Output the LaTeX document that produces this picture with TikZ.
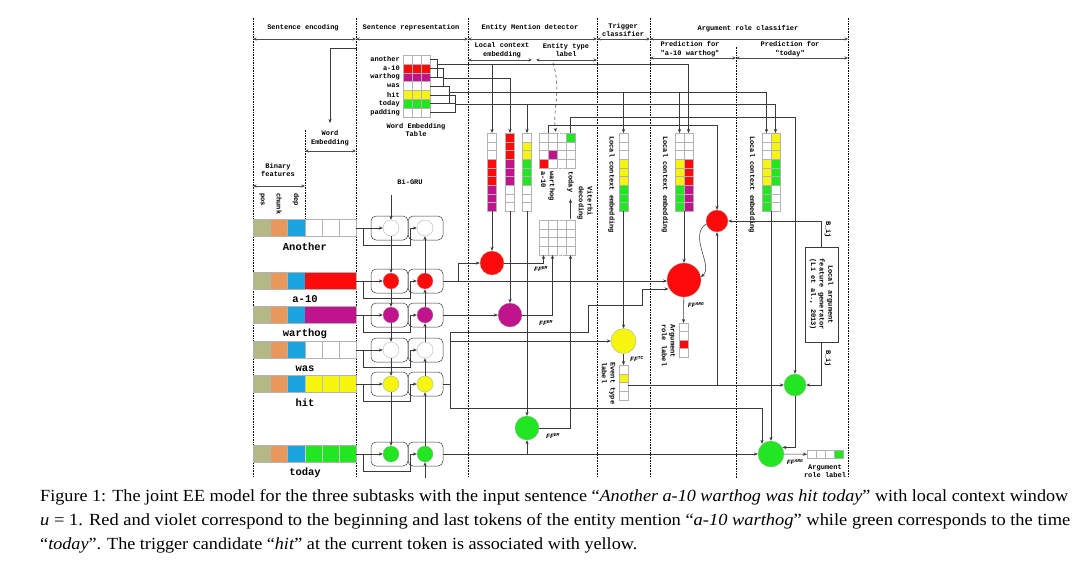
\documentclass[tikz,border=0pt]{standalone}
\usepackage{fontspec}
\usepackage{graphicx}
\setmainfont{Liberation Serif}
\setmonofont{Liberation Mono}
\usetikzlibrary{arrows.meta}

\definecolor{cw}{HTML}{FFFFFF}
\definecolor{cr}{HTML}{FF0A0A}
\definecolor{cv}{HTML}{C0148C}
\definecolor{cy}{HTML}{F5F510}
\definecolor{cg}{HTML}{22E622}
\definecolor{colv}{HTML}{B4B884}
\definecolor{corg}{HTML}{E8985A}
\definecolor{ccyn}{HTML}{1BA5E0}
\definecolor{ln}{HTML}{3A3A3A}

\newcommand{\vcells}[4]{\foreach \cc [count=\ii from 0] in {#4} {\draw[ecell, fill=\cc] (#1, #2+\ii*#3) rectangle ++(9, #3);}}

\begin{document}
\begin{tikzpicture}[x=1pt,y=-1pt,
  lbl/.style={font=\ttfamily\bfseries\fontsize{7}{8.6}\selectfont, inner sep=0},
  wlabel/.style={font=\ttfamily\bfseries\fontsize{10.5}{11}\selectfont, inner sep=0},
  ff/.style={font=\ttfamily\bfseries\itshape\fontsize{6.5}{7}\selectfont, inner sep=0},
  divider/.style={draw=black, line width=0.7pt, dash pattern=on 1.6pt off 1pt},
  hdr/.style={{Stealth[length=3.5pt,width=3pt]}-{Stealth[length=3.5pt,width=3pt]}, draw=gray!60!black, line width=0.4pt},
  conn/.style={draw=ln, line width=0.55pt},
  arr/.style={conn, -{Stealth[length=4pt,width=3.2pt]}},
  ecell/.style={draw=gray!60, line width=0.3pt},
  neuron/.style={circle, draw=gray!70, line width=0.3pt, inner sep=0, minimum size=16pt},
  gru/.style={draw=ln, rounded corners=5pt, line width=0.5pt}]
\fill[white] (0,0) rectangle (1080,563);
\useasboundingbox (0,0) rectangle (1080,563);

% ---------- section dividers ----------
\foreach \sx/\sa/\sb in {253/18/478, 356/18/478, 468/18/478, 597/18/478, 650/18/478, 848/18/478, 736/47/478, 305/130/221}
  \draw[divider] (\sx,\sa) -- (\sx,\sb);

% ---------- headers ----------
\node[lbl] (h1) at (303,28) {Sentence encoding};
\node[lbl] (h2) at (411,28) {Sentence representation};
\node[lbl] (h3) at (530,28) {Entity Mention detector};
\node[lbl, align=center] (h4) at (623,30) {Trigger\\classifier};
\node[lbl] (h5) at (748,29) {Argument role classifier};
\node[lbl, align=center] (h6) at (502,50) {Local context\\embedding};
\node[lbl, align=center] (h7) at (566,50) {Entity type\\label};
\node[lbl, align=center] (h8) at (690,49) {Prediction for\\"a-10 warthog"};
\node[lbl, align=center] (h9) at (790,49) {Prediction for\\"today"};
\node[lbl, align=center] (h10) at (330,138) {Word\\Embedding};
\node[lbl, align=center] (h11) at (278,170) {Binary\\features};
\draw[hdr] (253,39) -- (356,39);
\draw[hdr] (356,39) -- (468,39);
\draw[hdr] (468,39) -- (597,39);
\draw[hdr] (597,39) -- (650,39);
\draw[hdr] (650,39) -- (848,39);
\draw[hdr] (468,60) -- (532,60);
\draw[hdr] (536,60) -- (597,60);
\draw[hdr] (650,58) -- (736,58);
\draw[hdr] (736,58) -- (848,58);
\draw[hdr] (305,151) -- (356,151);
\draw[hdr] (253,186) -- (305,186);
\node[lbl, rotate=-90, anchor=west] (fpos) at (262,193) {pos};
\node[lbl, rotate=-90, anchor=west] (fchunk) at (279,193) {chunk};
\node[lbl, rotate=-90, anchor=west] (fdep) at (296,193) {dep};

% ---------- word embedding table ----------
\foreach \wrd/\cc [count=\k from 0] in {another/cw, a-10/cr, warthog/cv, was/cw, hit/cy, today/cg, padding/cw} {
  \node[lbl, anchor=east] (tw\k) at (400, 59.4+\k*8.857) {\wrd};
  \foreach \j in {0,1,2} \draw[ecell, fill=\cc] (403+\j*9, 55+\k*8.857) rectangle ++(9,8.857);
}
\node[lbl, align=center] (wet) at (416,130) {Word Embedding\\Table};
\coordinate (weA) at (357,48);
\coordinate (weB) at (330,123);
\draw[arr] (weA) -| (weB);

% brackets to the four window buses
\foreach \bx/\by/\ra/\rb in {437/64/0/2, 443/78/1/3, 449/92/3/5, 455/104/4/6} {
  \foreach \k in {\ra,...,\rb} \draw[conn] (430, 59.4+\k*8.857) -- (\bx, 59.4+\k*8.857);
  \draw[conn] (\bx, 59.4+\ra*8.857) -- (\bx, 59.4+\rb*8.857);
}
\draw[conn] (437,64) -- (688.5,64);
\draw[conn] (443,78) -- (510,78);
\draw[conn] (449,92) -- (766.5,92);
\draw[conn] (455,104) -- (775.5,104);
\foreach \dx/\dy in {492/64, 688.5/64, 510/78, 623.5/92, 679.5/92, 766.5/92, 527/104, 775.5/104}
  \draw[arr] (\dx,\dy) -- (\dx,133);

% ---------- sentence rows + Bi-GRU ----------
\node[lbl] (bigru) at (410,182) {Bi-GRU};
\foreach \nm/\rc/\fc/\dc/\txt in {an/228/cw/gray!60/Another, ai/281/cr/cr/a-10, wa/315/cv/cv/warthog, ws/350/cw/gray!60/was, hi/384/cy/gray!50/hit, to/454/cg/gray!40/today}{
  \draw[ecell, fill=colv] (253,\rc-8.5) rectangle (270,\rc+8.5);
  \draw[ecell, fill=corg] (270,\rc-8.5) rectangle (287,\rc+8.5);
  \draw[ecell, fill=ccyn] (287,\rc-8.5) rectangle (305,\rc+8.5);
  \foreach \j in {0,1,2} \draw[draw=\dc, line width=0.3pt, fill=\fc] (305+\j*17,\rc-8.5) rectangle ++(17,17);
  \draw[ecell] (253,\rc-8.5) rectangle (356,\rc+8.5);
  \node[wlabel] (w\nm) at (305,\rc+18.5) {\txt};
  \draw[gru] (371,\rc-12) rectangle (408,\rc+12);
  \draw[gru] (408,\rc-12) rectangle (443,\rc+12);
  \node[neuron, fill=\fc] (L\nm) at (391,\rc) {};
  \node[neuron, fill=\fc] (R\nm) at (425,\rc) {};
  \coordinate (S\nm) at (356,\rc);
  \coordinate (O\nm) at (443,\rc);
  \draw[arr] (S\nm) -- (L\nm);
  \draw[arr] (363,\rc) -- (363,\rc+17) -- (410,\rc+17) -- (410,\rc) -- (R\nm);
}
\coordinate (bgin) at (391,195);
\coordinate (bgout) at (425,478);
\draw[arr] (bgin) -- (Lan);
\draw[arr] (bgout) -- (Rto);
\draw[arr] (Lan) -- (Lai); \draw[arr] (Lai) -- (Lwa); \draw[arr] (Lwa) -- (Lws);
\draw[arr] (Lws) -- (Lhi); \draw[arr] (Lhi) -- (Lto);
\draw[arr] (Rai) -- (Ran); \draw[arr] (Rwa) -- (Rai); \draw[arr] (Rws) -- (Rwa);
\draw[arr] (Rhi) -- (Rws); \draw[arr] (Rto) -- (Rhi);

% ---------- local context columns ----------
\vcells{487.5}{133}{8.667}{cw,cw,cw,cr,cr,cr,cv,cv,cv}
\vcells{505.5}{133}{8.667}{cr,cr,cr,cv,cv,cv,cw,cw,cw}
\vcells{522.5}{133}{8.667}{cw,cy,cy,cg,cg,cg,cw,cw,cw}
\vcells{619}{133}{8.667}{cw,cw,cw,cy,cy,cy,cg,cg,cg}
\vcells{675}{133}{8.667}{cw,cw,cw,cy,cy,cy,cg,cg,cg}
\vcells{684}{133}{8.667}{cw,cw,cw,cr,cr,cr,cv,cv,cv}
\vcells{762}{133}{8.667}{cw,cw,cw,cy,cy,cy,cg,cg,cg}
\vcells{771}{133}{8.667}{cy,cy,cy,cg,cg,cg,cw,cw,cw}
\node[lbl, rotate=-90, anchor=west] (lce1) at (611.5,136) {Local context embedding};
\node[lbl, rotate=-90, anchor=west] (lce2) at (665,136) {Local context embedding};
\node[lbl, rotate=-90, anchor=west] (lce3) at (752,136) {Local context embedding};

% ---------- entity type label matrices ----------
\foreach \yy in {133,220} {
  \foreach \j in {0,1,3} \foreach \i in {0,...,3} \draw[ecell, fill=white] (539+\j*9, \yy+\i*8.75) rectangle ++(9,8.75);
  \foreach \i in {0,...,3} \draw[ecell, densely dotted] (557, \yy+\i*8.75) rectangle ++(9,8.75);
}
\draw[ecell, fill=cr] (539,159.25) rectangle ++(9,8.75);
\draw[ecell, fill=cv] (548,150.5) rectangle ++(9,8.75);
\draw[ecell, fill=cg] (566,133) rectangle ++(9,8.75);
\node[lbl, rotate=-90, anchor=west, align=left] (lwa) at (548,171) {warthog\\a-10};
\node[lbl, rotate=-90, anchor=west] (ltd) at (570.5,171) {today};
\node[lbl, rotate=-90, anchor=west, align=left] (vit) at (585,186) {Viterbi\\decoding};
\coordinate (vb1) at (570.5,219);
\coordinate (vb2) at (570.5,199);
\draw[arr] (vb1) -- (vb2);
\coordinate (etl) at (553,63);
\coordinate (etm) at (556,132);
\draw[conn, dashed, -{Stealth[length=4pt,width=3.2pt]}] (etl) .. controls (562,90) and (552,112) .. (etm);

% ---------- neurons ----------
\node[neuron, fill=cr, minimum size=24pt] (emr) at (492,263) {};
\node[neuron, fill=cv, minimum size=24pt] (emv) at (510,315) {};
\node[neuron, fill=cg, minimum size=24pt] (emg) at (527,428) {};
\node[neuron, fill=cy, minimum size=25pt] (yel) at (623.5,341) {};
\node[neuron, fill=cr, minimum size=34pt] (argr) at (684,280) {};
\node[neuron, fill=cr, minimum size=22pt] (sr) at (717,221) {};
\node[neuron, fill=cg, minimum size=22pt] (g1) at (795,385) {};
\node[neuron, fill=cg, minimum size=26pt] (argg) at (771,454) {};

% columns into neurons
\draw[arr] (492,211) -- (emr);
\draw[arr] (510,211) -- (emv);
\draw[arr] (527,211) -- (emg);
\draw[arr] (623.5,211) -- (yel);
\draw[arr] (684,211) -- (argr);
\draw[arr] (771,211) -- (argg);

% Bi-GRU outputs
\coordinate (j1) at (458,281);
\coordinate (argrin1) at (667.1,281);
\draw[arr] (Oai) -- (argrin1);
\draw[arr] (j1) |- (emr);
\draw[arr] (Owa) -- (emv);
\coordinate (j2) at (450,384);
\draw[conn] (Ohi) -- (j2);
\draw[conn] (450,332) -- (450,408);
\draw[arr] (450,341) -- (yel);
\coordinate (argrin2) at (668.5,289);
\draw[arr] (450,332) -- (588,332) -- (588,305) -- (642,305) -- (642,289) -- (argrin2);
\coordinate (arggin) at (762,443.8);
\draw[arr] (450,408) -| (arggin);
\draw[arr] (Oto) -- (argg);
\draw[arr] (527,454) -- (emg);

% EM outputs to decoding matrix
\coordinate (lm1) at (543.5,255);
\coordinate (lm2) at (552.5,255);
\coordinate (lm4) at (570.5,255);
\draw[arr] (emr) -| (lm1);
\draw[arr] (emv) -| (lm2);
\draw[arr] (emg) -| (lm4);
\node[ff] (ff1) at (541,269) {FF\textsuperscript{EM}};
\node[ff] (ff2) at (546,323) {FF\textsuperscript{EM}};
\node[ff] (ff3) at (553,436) {FF\textsuperscript{EM}};

% entity type labels to argument features
\draw[arr] (548,133) -- (548,125) -- (717,125) -- (sr);
\draw[arr] (570.5,133) -- (570.5,117) -- (795,117) -- (g1);

% trigger classifier output
\vcells{619}{365}{8.75}{cw,cy,cw,cw}
\coordinate (evt) at (623.5,365);
\draw[arr] (yel) -- (evt);
\node[ff] (ff4) at (637,359) {FF\textsuperscript{TC}};
\node[lbl, rotate=-90, anchor=west, align=left] (evl) at (608.5,362) {Event type\\label};
\coordinate (evo) at (628,385);
\coordinate (j3) at (717,385);
\draw[conn] (evo) -- (j3);
\draw[arr] (j3) -- (sr);
\draw[arr] (j3) -- (g1);

% argument role: a-10 warthog
\draw[arr] (sr.195) .. controls (688,236) and (714,266) .. (argr.10);
\vcells{679}{323}{8.5}{cw,cw,cr,cw}
\coordinate (alt) at (683.5,323);
\draw[arr] (argr) -- (alt);
\node[ff] (ff5) at (696,305) {FF\textsuperscript{ARG}};
\node[lbl, rotate=-90, anchor=west, align=left] (arl1) at (668.5,324) {Argument\\role label};

% local argument feature generator
\node[draw=ln, line width=0.5pt, minimum width=33pt, minimum height=95pt, inner sep=0] (lafg) at (821.5,294.5) {};
\node[lbl, rotate=-90, align=center] (lafgt) at (lafg.center) {Local argument\\feature generator\\(Li et al., 2013)};
\draw[arr] (lafg.north) |- (sr);
\draw[arr] (lafg.south) |- (g1);
\node[lbl, rotate=-90, anchor=west] (bij1) at (828,221) {B\_ij};
\node[lbl, rotate=-90, anchor=west] (bij2) at (828,350) {B\_ij};

% argument role: today
\draw[arr] (g1) |- (argg.30);
\foreach \j/\cc in {0/cw,1/cw,2/cw,3/cg} \draw[ecell, fill=\cc] (807+\j*9,450) rectangle ++(9,8.5);
\coordinate (agl) at (807,454.25);
\draw[arr] (argg) -- (agl);
\node[ff] (ff6) at (795,462) {FF\textsuperscript{ARG}};
\node[lbl, align=center] (arl2) at (825,471) {Argument\\role label};

% ---------- caption ----------
\node[anchor=base west, inner sep=0, font=\fontsize{17}{20}\selectfont] (cap1) at (40,501)
  {\resizebox{1028pt}{\height}{Figure 1: The joint EE model for the three subtasks with the input sentence \textquotedblleft\textit{Another a-10 warthog was hit today}\textquotedblright{} with local context window}};
\node[anchor=base west, inner sep=0, font=\fontsize{17}{20}\selectfont] (cap2) at (40,525)
  {\resizebox{1030pt}{\height}{\textit{u} = 1. Red and violet correspond to the beginning and last tokens of the entity mention \textquotedblleft\textit{a-10 warthog}\textquotedblright{} while green corresponds to the time}};
\node[anchor=base west, inner sep=0, font=\fontsize{17}{20}\selectfont] (cap3) at (40,549)
  {\resizebox{597pt}{\height}{\textquotedblleft\textit{today}\textquotedblright. The trigger candidate \textquotedblleft\textit{hit}\textquotedblright{} at the current token is associated with yellow.}};
\end{tikzpicture}
\end{document}
